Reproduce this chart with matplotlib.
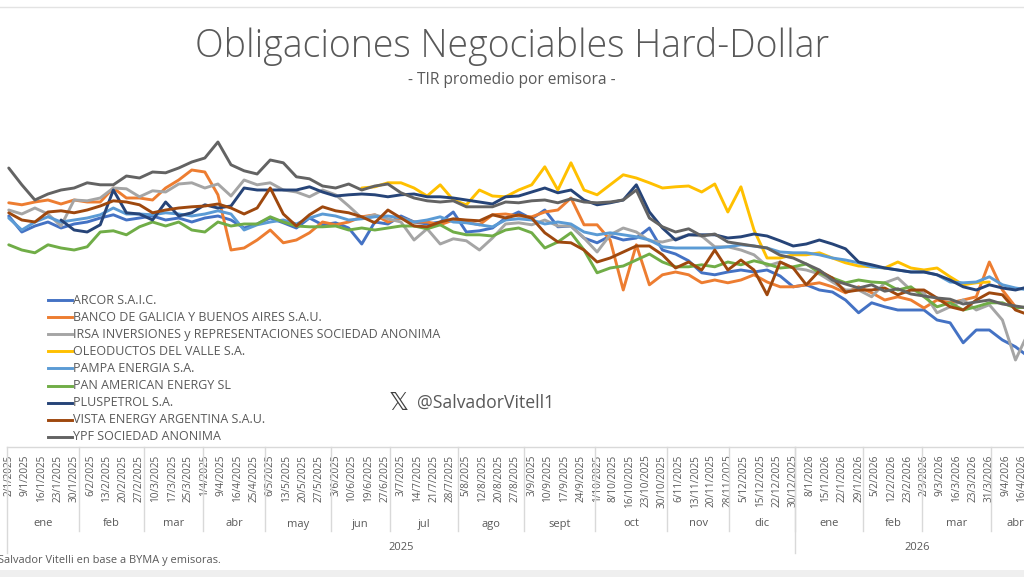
import numpy as np
import matplotlib
matplotlib.use("Agg")
import matplotlib.pyplot as plt
from matplotlib.lines import Line2D
from matplotlib.patches import Rectangle

nan = np.nan

# ---------------- data ----------------
date_labels = [
    "2/1/2025", "9/1/2025", "16/1/2025", "23/1/2025", "30/1/2025",
    "6/2/2025", "13/2/2025", "20/2/2025", "27/2/2025", "10/3/2025",
    "17/3/2025", "25/3/2025", "1/4/2025", "9/4/2025", "16/4/2025",
    "25/4/2025", "6/5/2025", "13/5/2025", "20/5/2025", "27/5/2025",
    "3/6/2025", "10/6/2025", "19/6/2025", "27/6/2025", "3/7/2025",
    "14/7/2025", "21/7/2025", "28/7/2025", "5/8/2025", "12/8/2025",
    "20/8/2025", "27/8/2025", "3/9/2025", "10/9/2025", "17/9/2025",
    "24/9/2025", "1/10/2025", "8/10/2025", "16/10/2025", "23/10/2025",
    "30/10/2025", "6/11/2025", "13/11/2025", "20/11/2025", "28/11/2025",
    "5/12/2025", "15/12/2025", "22/12/2025", "30/12/2025", "8/1/2026",
    "15/1/2026", "22/1/2026", "29/1/2026", "5/2/2026", "12/2/2026",
    "23/2/2026", "2/3/2026", "9/3/2026", "16/3/2026", "23/3/2026",
    "31/3/2026", "9/4/2026", "16/4/2026",
]
label_every = 5          # one date label every 5 trading days
n_days = 316             # trading days in the series
sample_step = 4          # values read every 4 trading days

month_names = ["ene", "feb", "mar", "abr", "may", "jun", "jul", "ago",
               "sept", "oct", "nov", "dic", "ene", "feb", "mar", "abr"]
month_last_idx = [21, 41, 59, 78, 98, 116, 137, 157, 179, 201, 220, 240,
                  261, 279, 300, 315]
year_names = ["2025", "2026"]
year_last_idx = [240, 315]

series_names = [
    "ARCOR S.A.I.C.",
    "BANCO DE GALICIA Y BUENOS AIRES S.A.U.",
    "IRSA INVERSIONES y REPRESENTACIONES SOCIEDAD ANONIMA",
    "OLEODUCTOS DEL VALLE S.A.",
    "PAMPA ENERGIA S.A.",
    "PAN AMERICAN ENERGY SL",
    "PLUSPETROL S.A.",
    "VISTA ENERGY ARGENTINA S.A.U.",
    "YPF SOCIEDAD ANONIMA",
]

arcor = [8.6, 8.2, 8.35, 8.45, 8.3, 8.4, 8.45, 8.55, 8.63, 8.5,
         8.55, 8.6, 8.5, 8.55, 8.45, 8.55, 8.6, 8.5, 8.3, 8.4,
         8.55, 8.43, 8.3, 8.55, 8.38, 8.43, 8.3, 7.9, 8.45, 8.4,
         8.6, 8.45, 8.4, 8.45, 8.7, 8.2, 8.23, 8.3, 8.55, 8.7,
         8.53, 8.75, 8.33, 8.35, 8.05, 7.93, 8.1, 8.0, 8.05, 8.3,
         7.75, 7.65, 7.48, 7.18, 7.13, 7.2, 7.25, 7.2, 7.25, 7.1,
         6.83, 6.88, 6.75, 6.7, 6.5, 6.18, 6.43, 6.33, 6.25, 6.25,
         6.25, 6.0, 5.93, 5.43, 5.75, 5.75, 5.5, 5.33, 5.08]
galicia = [8.93, 8.88, 8.95, 9.0, 8.9, 9.0, 8.95, 8.95, 9.3, 9.05,
           9.05, 9.0, 9.3, 9.5, 9.75, 9.7, 9.13, 7.75, 7.8, 8.0,
           8.25, 7.93, 8.0, 8.18, 8.45, 8.38, 8.45, 8.58, 8.63, 8.45,
           8.55, 8.45, 8.45, 8.38, 8.5, 8.45, 8.38, 8.63, 8.65, 8.6,
           8.58, 8.7, 8.75, 9.05, 8.38, 8.38, 8.0, 6.75, 7.88, 6.88,
           7.13, 7.2, 7.13, 6.93, 7.0, 6.93, 7.0, 7.13, 6.95, 6.83,
           6.83, 6.88, 6.93, 6.83, 6.68, 6.83, 6.68, 6.5, 6.58, 6.5,
           6.3, 6.5, 6.43, 6.5, 6.58, 7.45, 6.75, 6.33, 6.3]
irsa = [8.75, 8.65, 8.8, 8.65, 8.35, 9.0, 8.98, 9.05, 9.3, 9.28,
        9.08, 9.23, 9.2, 9.4, 9.43, 9.3, 9.4, 9.1, 9.5, 9.38,
        9.43, 9.25, 9.2, 9.08, 9.25, 9.13, 8.85, 8.55, 8.63, 8.53,
        8.45, 8.0, 8.28, 7.9, 8.03, 7.98, 7.75, 8.05, 8.4, 8.43,
        8.38, 8.5, 8.35, 8.35, 8.05, 7.7, 8.13, 8.3, 8.2, 7.98,
        7.95, 8.03, 8.13, 8.1, 7.83, 7.83, 7.75, 7.63, 7.35, 7.45,
        7.3, 7.25, 7.15, 6.95, 6.75, 6.75, 6.58, 6.93, 7.05, 6.75,
        6.68, 6.18, 6.33, 6.5, 6.25, 6.38, 6.0, 5.0, 5.7]
oleoductos = [nan] * 27 + [
    9.3, 9.33, 9.43, 9.43, 9.3, 9.1, 9.38, 9.0, 8.88, 9.25,
    9.1, 9.08, 9.25, 9.38, 9.83, 9.25, 9.93, 9.25, 9.13, 9.38,
    9.63, 9.55, 9.43, 9.3, 9.33, 9.35, 9.2, 9.4, 8.7, 9.33,
    8.25, 7.55, 7.55, 7.63, 7.63, 7.68, 7.55, 7.43, 7.35, 7.33,
    7.3, 7.45, 7.3, 7.25, 7.3, 7.08, 6.88, 6.93, 6.95] + [nan] * 3
pampa = [8.55, 8.25, 8.45, 8.58, 8.45, 8.5, 8.55, 8.63, 8.8, 8.65,
         8.65, 8.63, 8.68, 8.65, 8.6, 8.65, 8.73, 8.65, 8.25, 8.38,
         8.45, 8.5, 8.4, 8.55, 8.65, 8.6, 8.5, 8.53, 8.58, 8.6,
         8.55, 8.45, 8.5, 8.58, 8.45, 8.43, 8.38, 8.33, 8.5, 8.53,
         8.5, 8.4, 8.45, 8.4, 8.2, 8.13, 8.18, 8.13, 8.08, 8.0,
         7.83, 7.8, 7.8, 7.8, 7.8, 7.83, 7.88, 7.85, 7.8, 7.7,
         7.68, 7.68, 7.63, 7.55, 7.5, 7.43, 7.33, 7.3, 7.25, 7.2,
         7.2, 7.13, 6.95, 6.93, 6.95, 7.08, 6.88, 6.8, 6.75]
pan_american = [7.88, 7.75, 7.68, 7.88, 7.8, 7.75, 7.83, 8.2, 8.23, 8.13,
                8.33, 8.45, 8.35, 8.45, 8.25, 8.2, 8.45, 8.35, 8.4, 8.4,
                8.58, 8.45, 8.35, 8.33, 8.33, 8.35, 8.25, 8.3, 8.25, 8.3,
                8.35, 8.35, 8.28, 8.38, 8.2, 8.13, 8.13, 8.1, 8.25, 8.3,
                8.18, 7.8, 7.95, 8.18, 7.75, 7.18, 7.3, 7.35, 7.5, 7.65,
                7.45, 7.33, 7.33, 7.38, 7.33, 7.45, 7.38, 7.48, 7.4, 7.3,
                7.33, 7.4, 7.18, 7.05, 6.93, 7.0, 6.95, 6.93, 6.75, 6.83,
                6.58, 6.33, 6.43, 6.25, 6.33, 6.43, 6.43, 6.3, 6.33]
pluspetrol = [nan, nan, nan, nan, 8.5, 8.25, 8.2, 8.38, 9.25, 8.68,
              8.65, 8.5, 8.95, 8.6, 8.68, 8.88, 8.8, 8.85, 9.3, 9.25,
              9.25, 9.25, 9.25, 9.33, 9.2, 9.1, 9.13, 9.15, 9.13, 9.08,
              9.13, 9.15, 9.08, 9.08, 9.05, 9.0, 8.95, 8.9, 9.08, 9.1,
              9.2, 9.3, 9.18, 9.25, 9.0, 8.88, 8.93, 9.0, 9.38, 8.7,
              8.3, 8.0, 8.13, 8.13, 8.13, 8.05, 8.08, 8.15, 8.1, 7.98,
              7.85, 7.9, 8.0, 7.9, 7.78, 7.45, 7.38, 7.3, 7.25, 7.2,
              7.2, 7.13, 7.0, 6.83, 6.75, 6.88, 6.8, 6.75, 6.83]
vista = [8.68, 8.5, 8.45, 8.7, 8.73, 8.68, 8.75, 8.85, 8.98, 8.95,
         8.88, 8.68, 8.75, 8.8, 8.83, 8.85, 8.9, 8.8, 8.65, 8.8,
         9.3, 8.65, 8.35, 8.63, 8.83, 8.73, 8.68, 8.58, 8.43, 8.75,
         8.55, 8.35, 8.33, 8.45, 8.53, 8.5, 8.48, 8.63, 8.55, 8.63,
         8.55, 8.18, 7.95, 7.93, 7.75, 7.45, 7.55, 7.7, 7.85, 7.85,
         7.63, 7.3, 7.45, 7.25, 7.75, 7.25, 7.5, 7.25, 6.63, 7.45,
         7.3, 6.88, 7.23, 7.05, 6.7, 6.75, 6.75, 6.8, 6.63, 6.75,
         6.75, 6.55, 6.33, 6.25, 6.5, 6.68, 6.63, 6.25, 6.13]
ypf = [9.8, 9.38, 9.0, 9.15, 9.25, 9.3, 9.43, 9.38, 9.38, 9.6,
       9.55, 9.7, 9.68, 9.8, 9.95, 10.05, 10.45, 9.88, 9.73, 9.65,
       10.0, 9.93, 9.58, 9.53, 9.35, 9.3, 9.4, 9.25, 9.35, 9.4,
       9.18, 9.05, 8.98, 8.95, 8.98, 8.83, 8.83, 8.83, 8.95, 8.93,
       8.98, 9.0, 8.93, 9.03, 8.95, 8.93, 8.95, 9.0, 9.25, 8.55,
       8.33, 8.2, 8.28, 8.1, 8.15, 7.95, 7.9, 7.85, 7.8, 7.62,
       7.55, 7.4, 7.25, 7.0, 6.9, 6.8, 6.88, 6.72, 6.78, 6.65,
       6.6, 6.55, 6.52, 6.4, 6.45, 6.5, 6.4, 6.35, 6.3]

series_values = [arcor, galicia, irsa, oleoductos, pampa, pan_american,
                 pluspetrol, vista, ypf]
series_colors = ["#4472C4", "#ED7D31", "#A5A5A5", "#FFC000", "#5B9BD5",
                 "#70AD47", "#264478", "#9E480E", "#636363"]

# ---------------- figure ----------------
FONT = ["Open Sans", "DejaVu Sans"]
TXT = "#595959"
plt.rcParams["font.family"] = FONT

W, H = 1024, 577
fig = plt.figure(figsize=(W / 100, H / 100), dpi=100)
fig.patch.set_facecolor("white")


def fx(px):
    return px / W


def fy(py):
    return 1 - py / H


# plot area (x axis extends beyond the right border, as in the cropped original)
ax_left_px, ax_right_px = 7.1, 1040.0
ax_top_px, ax_bot_px = 100.0, 447.0
ax = fig.add_axes([fx(ax_left_px), fy(ax_bot_px),
                   (ax_right_px - ax_left_px) / W, (ax_bot_px - ax_top_px) / H])
ax.set_facecolor("none")
ax.set_xlim(-0.5, n_days - 0.5)
ax.set_ylim(2.825, 11.5)

x = np.arange(0, n_days, sample_step)
for name, vals, col in zip(series_names, series_values, series_colors):
    ax.plot(x, np.array(vals, dtype=float), color=col, lw=2.1,
            solid_joinstyle="round", solid_capstyle="round", label=name)

for s in ax.spines.values():
    s.set_visible(False)
ax.set_yticks([])
ax.set_xticks(np.arange(len(date_labels)) * label_every)
ax.set_xticklabels(date_labels, rotation=90, fontsize=7.2, color=TXT,
                   va="top", ha="center")
ax.tick_params(axis="x", length=0, pad=5.5)

# axis line + multi-level category separators
axis_col = "#D9D9D9"
ax.plot([-0.5, n_days - 0.5], [0, 0], transform=ax.get_xaxis_transform(),
        color=axis_col, lw=1.0, clip_on=False)
h_ax = ax_bot_px - ax_top_px
month_depth = -(531 - ax_bot_px) / h_ax
year_depth = -(553 - ax_bot_px) / h_ax
month_lab_y = -(524 - ax_bot_px) / h_ax
year_lab_y = -(548 - ax_bot_px) / h_ax

ax.plot([-0.5, -0.5], [0, year_depth], transform=ax.get_xaxis_transform(),
        color=axis_col, lw=1.0, clip_on=False)
start = -0.5
for name, last in zip(month_names, month_last_idx):
    end = last + 0.5
    ax.plot([end, end], [0, month_depth], transform=ax.get_xaxis_transform(),
            color=axis_col, lw=1.0, clip_on=False)
    ax.text((start + end) / 2, month_lab_y, name, transform=ax.get_xaxis_transform(),
            ha="center", va="center", fontsize=8, color=TXT, clip_on=False)
    start = end
start = -0.5
for name, last in zip(year_names, year_last_idx):
    end = last + 0.5
    ax.plot([end, end], [0, year_depth], transform=ax.get_xaxis_transform(),
            color=axis_col, lw=1.0, clip_on=False)
    ax.text((start + end) / 2, year_lab_y, name, transform=ax.get_xaxis_transform(),
            ha="center", va="center", fontsize=8, color=TXT, clip_on=False)
    start = end

# ---------------- titles ----------------
fig.text(0.5, fy(46), "Obligaciones Negociables Hard-Dollar", ha="center", va="center",
         fontsize=27, color=TXT, fontweight="light")
fig.text(0.5, fy(80), "- TIR promedio por emisora -", ha="center", va="center",
         fontsize=11.2, color=TXT)

# ---------------- legend (left, stacked) ----------------
leg_y0, leg_dy = 300, 17.1
for i, (name, col) in enumerate(zip(series_names, series_colors)):
    yy = fy(leg_y0 + i * leg_dy)
    fig.add_artist(Line2D([fx(48), fx(72)], [yy, yy], transform=fig.transFigure,
                          color=col, lw=2.1))
    fig.text(fx(73), yy, name, ha="left", va="center", fontsize=9, color=TXT)

# ---------------- watermark ----------------
fig.text(fx(399), fy(403), "\U0001D54F", ha="center", va="center", fontsize=18,
         color="#404040", family=["DejaVu Sans"])
fig.text(fx(417), fy(403), "@SalvadorVitell1", ha="left", va="center",
         fontsize=12.7, color=TXT)

# ---------------- footer & frame ----------------
fig.text(fx(-2), fy(560), "Salvador Vitelli en base a BYMA y emisoras.", ha="left",
         va="center", fontsize=7.9, color=TXT)
fig.add_artist(Line2D([0, 1], [fy(7), fy(7)], transform=fig.transFigure,
                      color="#E3E3E3", lw=1.0))
fig.add_artist(Rectangle((0, 0), 1, fy(570), transform=fig.transFigure,
                         facecolor="#EFEFEF", edgecolor="none"))

fig.savefig("out.png", dpi=100, facecolor="white")
